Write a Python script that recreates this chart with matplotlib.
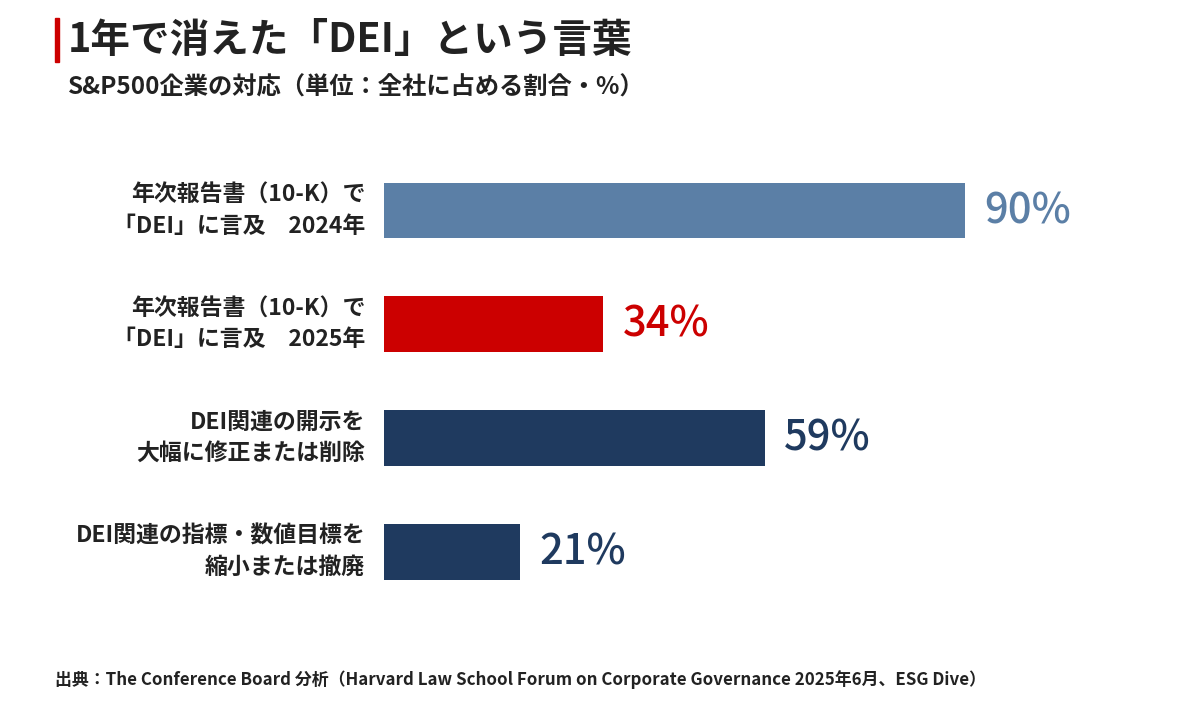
import matplotlib
matplotlib.use("Agg")
import matplotlib.pyplot as plt

plt.rcParams['font.family'] = ['Noto Sans CJK JP', 'DejaVu Sans']

labels = ["年次報告書（10-K）で\n「DEI」に言及　2024年",
          "年次報告書（10-K）で\n「DEI」に言及　2025年",
          "DEI関連の開示を\n大幅に修正または削除",
          "DEI関連の指標・数値目標を\n縮小または撤廃"]
values = [90, 34, 59, 21]
colors = ["#5b7fa6", "#cc0000", "#1f3a5f", "#1f3a5f"]

fig = plt.figure(figsize=(12, 7.08), dpi=100)
ax = fig.add_axes([0.32, 0.14, 0.68, 0.643])
ypos = list(range(len(values)))
ax.barh(ypos, values, height=0.49, color=colors)
ax.set_xlim(0, 126.4)
ax.set_ylim(3.5, -0.5)
ax.axis('off')

for y, v, c, lab in zip(ypos, values, colors, labels):
    ax.text(v + 3, y, f"{v}%", color=c, fontsize=30, fontweight='medium',
            va='center', ha='left')
    ax.text(-2.9, y, lab, fontsize=16.5, fontweight='bold', color='#222222',
            va='center', ha='right', linespacing=1.45)

fig.add_artist(plt.Rectangle((55 / 1200, 1 - 62 / 708), 4 / 1200, 44 / 708,
                             color='#cc0000', transform=fig.transFigure))
fig.text(68 / 1200, 1 - 40 / 708, "1年で消えた「DEI」という言葉", fontsize=28.5,
         fontweight='bold', va='center', color='#222222')
fig.text(68 / 1200, 1 - 88 / 708, "S&P500企業の対応（単位：全社に占める割合・%）",
         fontsize=17.5, fontweight='bold', va='center', color='#222222')
fig.text(55 / 1200, 1 - 680 / 708,
         "出典：The Conference Board 分析（Harvard Law School Forum on Corporate Governance 2025年6月、ESG Dive）",
         fontsize=12.2, fontweight='bold', va='center', color='#222222')

fig.savefig("out.png", dpi=100, facecolor='white')
